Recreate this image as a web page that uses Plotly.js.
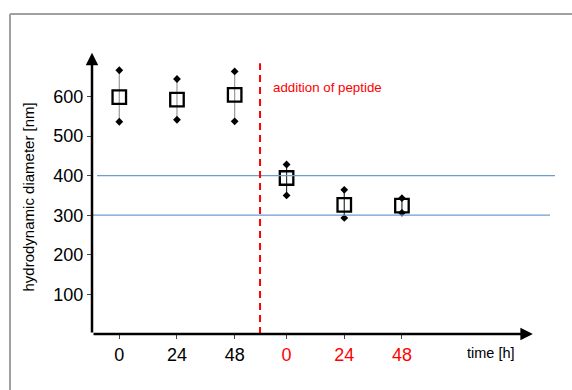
<!DOCTYPE html>
<html><head><meta charset="utf-8">
<script src="https://cdn.plot.ly/plotly-3.0.1.min.js"></script>
<style>html,body{margin:0;padding:0;background:#fff}#chart{width:572px;height:390px}</style>
</head><body><div id="chart"></div>
<script>
// Data
const tickLabels = ['0','24','48','0','24','48'];
const tickColors = ['black','black','black','red','red','red'];
const xPos = [0, 1, 2, 2.9, 3.9, 4.9];
const meanVals = [598, 592, 604, 394, 326, 324];
const upperVals = [666, 644, 663, 428, 364, 343];
const lowerVals = [536, 541, 537, 350, 293, 306];
const refLines = [400, 300];
const peptideX = 2.44;
const yTicks = [100, 200, 300, 400, 500, 600];

const x0 = -0.473, x1 = 7.64;
const W = 572, H = 390, L = 92, R = 12, T = 40, B = 56;
const pw = W - L - R, ph = H - T - B;
const px2paperX = p => (p - L) / pw;
const py2paperY = p => (H - B - p) / ph;

const traces = [];
// whiskers
xPos.forEach((x, i) => {
  traces.push({x: [x, x], y: [lowerVals[i], upperVals[i]], mode: 'lines', type: 'scatter',
    line: {color: i < 3 ? '#999' : '#333', width: 1.2}, hoverinfo: 'skip', showlegend: false});
});
// caps
traces.push({x: xPos.concat(xPos), y: upperVals.concat(lowerVals), mode: 'markers', type: 'scatter',
  marker: {symbol: 'diamond', size: 6, color: 'black'}, showlegend: false, hoverinfo: 'skip'});
// means
traces.push({x: xPos, y: meanVals, mode: 'markers', type: 'scatter',
  marker: {symbol: 'square-open', size: 13.5, color: 'black', line: {width: 2.3, color: 'black'}}, showlegend: false});

const shapes = [
  {type: 'line', xref: 'paper', yref: 'y', x0: px2paperX(97), x1: px2paperX(555), y0: refLines[0], y1: refLines[0], line: {color: '#6f9bd0', width: 1.3}},
  {type: 'line', xref: 'paper', yref: 'y', x0: px2paperX(93), x1: px2paperX(550), y0: refLines[1], y1: refLines[1], line: {color: '#6f9bd0', width: 1.3}},
  {type: 'line', xref: 'x', yref: 'y', x0: peptideX, x1: peptideX, y0: 0, y1: 684, line: {color: '#ff0000', width: 2, dash: '7px,5px'}},
  // frame
  {type: 'line', xref: 'paper', yref: 'paper', x0: px2paperX(10), x1: px2paperX(572), y0: py2paperY(14), y1: py2paperY(14), line: {color: '#a0a0a0', width: 2}},
  {type: 'line', xref: 'paper', yref: 'paper', x0: px2paperX(10), x1: px2paperX(10), y0: py2paperY(14), y1: py2paperY(392), line: {color: '#a0a0a0', width: 2}}
];

const annotations = [
  {x: 7.17, y: 0, ax: x0, ay: 0, xref: 'x', yref: 'y', axref: 'x', ayref: 'y', text: '', showarrow: true, arrowhead: 2, arrowsize: 1, arrowwidth: 2.5, arrowcolor: 'black'},
  {x: x0, y: 710, ax: x0, ay: 0, xref: 'x', yref: 'y', axref: 'x', ayref: 'y', text: '', showarrow: true, arrowhead: 2, arrowsize: 1, arrowwidth: 2.5, arrowcolor: 'black'},
  {x: px2paperX(271), y: 623, xref: 'paper', yref: 'y', xanchor: 'left', yanchor: 'middle', text: 'addition of peptide', showarrow: false, font: {color: '#ff0000', size: 13.3, family: 'Liberation Sans, Arial, sans-serif'}},
  {x: px2paperX(465), y: py2paperY(353), xref: 'paper', yref: 'paper', xanchor: 'left', yanchor: 'middle', text: 'time [h]', showarrow: false, font: {color: 'black', size: 14.5, family: 'Liberation Sans, Arial, sans-serif'}},
  {x: px2paperX(27.5), y: py2paperY(197), xref: 'paper', yref: 'paper', xanchor: 'center', yanchor: 'middle', textangle: -90, text: 'hydrodynamic diameter [nm]', showarrow: false, font: {color: 'black', size: 15, family: 'Liberation Sans, Arial, sans-serif'}}
];

const layout = {
  width: W, height: H, margin: {l: L, r: R, t: T, b: B},
  paper_bgcolor: 'white', plot_bgcolor: 'white',
  font: {family: 'Liberation Sans, Arial, sans-serif', color: 'black'},
  xaxis: {range: [x0, x1], showgrid: false, zeroline: false, showline: false,
    tickvals: xPos, ticktext: tickLabels.map((t, i) => '<span style="color:' + tickColors[i] + '">' + t + '</span>'),
    ticks: 'outside', ticklen: 4, tickcolor: '#444', tickwidth: 1, tickfont: {size: 18}},
  yaxis: {range: [0, ph / 0.396], showgrid: false, zeroline: false, showline: false,
    tickvals: yTicks, ticks: 'outside', ticklen: 4, tickcolor: '#444', tickwidth: 1, tickfont: {size: 18}},
  shapes: shapes, annotations: annotations, showlegend: false
};
Plotly.newPlot('chart', traces, layout, {displayModeBar: false, staticPlot: true});
</script></body></html>
